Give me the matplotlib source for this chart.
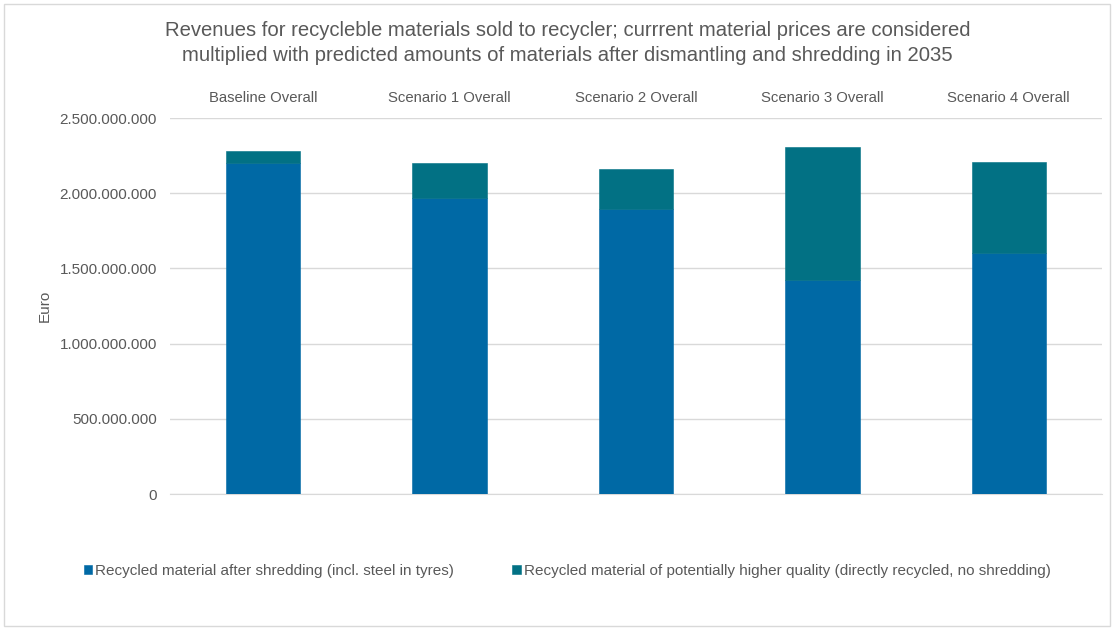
import matplotlib.pyplot as plt
from matplotlib.patches import Rectangle
from matplotlib.ticker import FuncFormatter
import numpy as np

categories = ["Baseline Overall", "Scenario 1 Overall", "Scenario 2 Overall",
              "Scenario 3 Overall", "Scenario 4 Overall"]
shredded = [2200e6, 1970e6, 1893e6, 1423e6, 1600e6]
higher_quality = [80e6, 233e6, 266e6, 884e6, 607e6]
series_names = ["Recycled material after shredding (incl. steel in tyres)",
                "Recycled material of potentially higher quality (directly recycled, no shredding)"]

plt.rcParams["font.family"] = ["Liberation Sans", "DejaVu Sans"]
text_col = "#595959"

fig = plt.figure(figsize=(11.15, 6.30), dpi=100)
ax = fig.add_axes([170 / 1115, 1 - 494 / 630, 932 / 1115, 376 / 630])

x = np.arange(len(categories))
ax.bar(x, shredded, width=0.4, color="#0069A5", edgecolor="#0069A5", linewidth=0.4,
       label=series_names[0], zorder=3)
ax.bar(x, higher_quality, width=0.4, bottom=shredded, color="#027184",
       edgecolor="#027184", linewidth=0.4, label=series_names[1], zorder=3)

ax.set_xlim(-0.5, len(categories) - 0.5)
ax.set_ylim(0, 2.5e9)
ax.set_yticks(np.arange(0, 2.51e9, 5e8))
ax.yaxis.set_major_formatter(FuncFormatter(lambda v, p: f"{int(v):,}".replace(",", ".")))
ax.grid(axis="y", color="#d9d9d9", linewidth=1, zorder=0)
for s in ["top", "right", "left"]:
    ax.spines[s].set_visible(False)
ax.spines["bottom"].set_color("#d9d9d9")
ax.tick_params(axis="y", length=0, pad=9.5, labelsize=11, labelcolor=text_col)

ax.set_xticks(x)
ax.set_xticklabels([])
for i, c in enumerate(categories):
    ax.text(i, 2.5e9 + 1.3e8, c, ha="center", va="center", fontsize=10.7, color=text_col)
ax.tick_params(axis="x", length=0)

ax.set_ylabel("Euro", fontsize=11, color=text_col)
ax.yaxis.set_label_coords(-118 / 932, 0.5)

fig.text(0.5 + 10 / 1115, 1 - 43 / 630,
         "Revenues for recycleble materials sold to recycler; currrent material prices are considered\n"
         "multiplied with predicted amounts of materials after dismantling and shredding in 2035",
         ha="center", va="center", fontsize=14.6, color=text_col, linespacing=1.35)

fig.legend(loc="center left", bbox_to_anchor=(70 / 1115, 1 - 571 / 630), ncol=2,
           frameon=False, fontsize=11, handlelength=0.55, handleheight=0.6,
           handletextpad=0.2, columnspacing=3.8, labelcolor=text_col)

fig.patches.append(Rectangle((4 / 1115, 4 / 630), 1106 / 1115, 622 / 630, fill=False,
                             edgecolor="#d9d9d9", linewidth=1, transform=fig.transFigure))

fig.savefig("out.png", dpi=100)
